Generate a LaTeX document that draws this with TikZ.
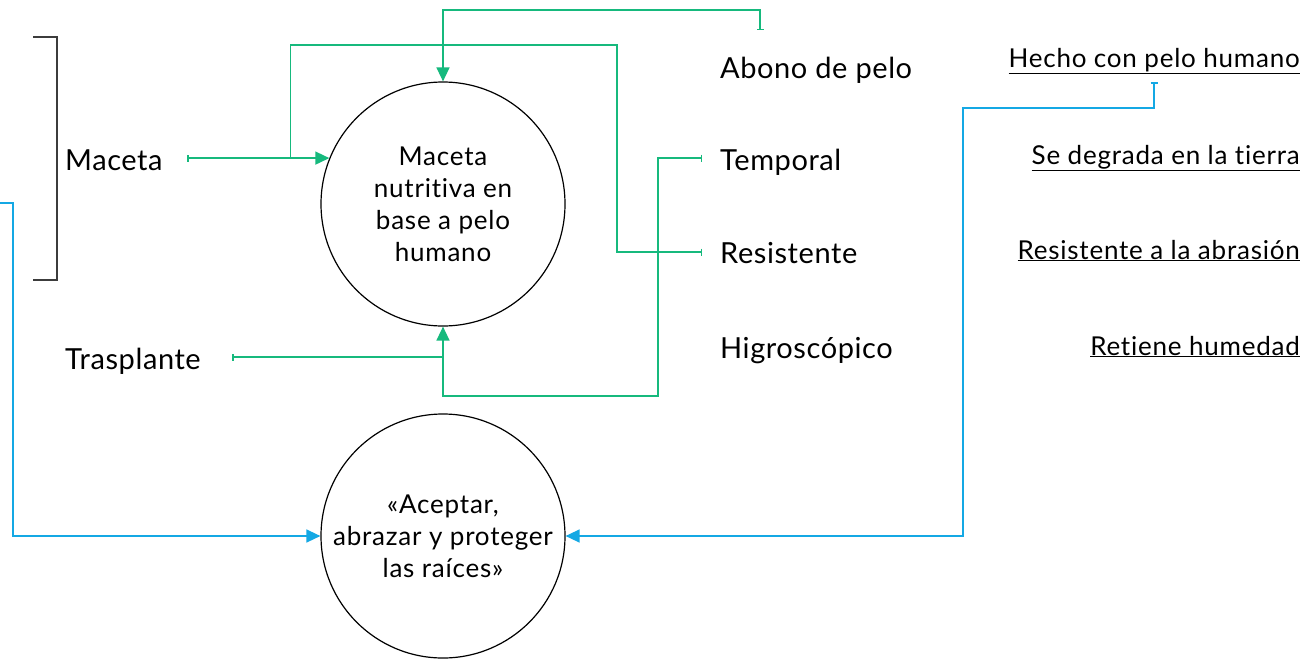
\documentclass[tikz,border=0pt]{standalone}
\usepackage{fontspec}
\setmainfont{Lato}[Ligatures=NoCommon]
\newfontfamily\widefont{Lato}[Ligatures=NoCommon,LetterSpace=3]
\newfontfamily\lblfont{Lato}[Ligatures=NoCommon,LetterSpace=2]
\usetikzlibrary{arrows.meta}
\definecolor{grn}{RGB}{22,185,125}
\definecolor{blu}{RGB}{20,168,228}
\definecolor{brk}{RGB}{60,60,60}
\tikzset{mytick/.tip={Bar[width=7pt]},myhead/.tip={Triangle[length=14pt,width=13pt]}}
\begin{document}
\begin{tikzpicture}[x=1pt,y=-1pt,
  bubble/.style={circle,draw,line width=1.2pt,minimum size=244pt,inner sep=0pt,align=center,
    font=\widefont\fontsize{26}{32}\selectfont},
  lbl/.style={anchor=base west,inner sep=0pt,font=\lblfont\fontsize{29}{32}\selectfont},
  rlbl/.style={anchor=base east,inner sep=0pt,font=\widefont\fontsize{26}{30}\selectfont},
  gline/.style={grn,line width=1.5pt},
  bline/.style={blu,line width=1.5pt}]
\useasboundingbox (0,0) rectangle (1311,659);
% circles
\node[bubble] (c1) at (443,204) {Maceta\\nutritiva en\\base a pelo\\humano};
\node[bubble] (c2) at (443,536) {«Aceptar,\\abrazar y proteger\\las raíces»};
% labels
\node[lbl] (mac) at (65,170) {Maceta};
\node[lbl] (tras) at (65,369) {Trasplante};
\node[lbl] (abo) at (720,78) {Abono de pelo};
\node[lbl] (tem) at (720,170) {Temporal};
\node[lbl] (res) at (720,263) {Resistente};
\node[lbl] (hig) at (720,358) {Higroscópico};
\node[rlbl] (hec) at (1300,67) {\underline{Hecho con pelo humano}};
\node[rlbl] (deg) at (1300,164) {\underline{Se degrada en la tierra}};
\node[rlbl] (abr) at (1300,259) {\underline{Resistente a la abrasión}};
\node[rlbl] (hum) at (1300,355) {\underline{Retiene humedad}};
% bracket
\draw[brk,line width=1.3pt] (33,37) -- (57,37) -- (57,280) -- (33,280);
% coordinates
\path (c1.158) ++(-142,0) coordinate (mT);
\path (mT) ++(103,0) coordinate (j1);
\coordinate (rT) at (702,252);
\coordinate (tT) at (702,158);
\coordinate (aT) at (760,30);
\coordinate (trT) at (232,357);
\coordinate (bL) at (0,203);
\coordinate (hT) at (1154,82);
% green connectors
\draw[gline,{mytick}-{myhead}] (mT) -- (c1.158);
\draw[gline,{mytick}-] (rT) -- ++(-85,0) -- ++(0,-207) -| (j1);
\draw[gline,{mytick}-{myhead}] (aT) -- ++(0,-20) -| (c1.north);
\draw[gline,{mytick}-{myhead}] (tT) -- ++(-44,0) -- ++(0,238) -| (c1.south);
\draw[gline,{mytick}-] (trT) -- (trT -| c1.south);
% blue connectors
\draw[bline,-{myhead}] (bL) -- ++(13,0) |- (c2.west);
\draw[bline,{mytick}-{myhead}] (hT) -- ++(0,26) -- ++(-191,0) |- (c2.east);
\end{tikzpicture}
\end{document}
